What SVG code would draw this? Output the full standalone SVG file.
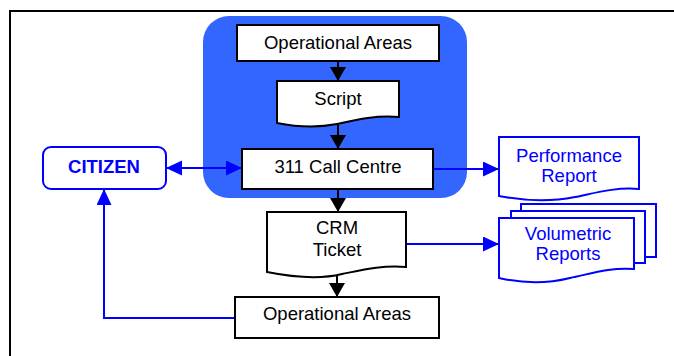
<svg xmlns="http://www.w3.org/2000/svg" width="674" height="356" viewBox="0 0 674 356">
<style>
  .box{fill:#fff;stroke:#000;stroke-width:2}
  .bbox{fill:#fff;stroke:#0000ff;stroke-width:2}
  .t{font-family:"Liberation Sans",Arial,sans-serif;font-size:18.5px;fill:#000;text-anchor:middle}
  .tb{font-family:"Liberation Sans",Arial,sans-serif;font-size:18.5px;fill:#0000ff;text-anchor:middle}
  .k{fill:none;stroke:#000;stroke-width:2}
  .b{fill:none;stroke:#0000ff;stroke-width:2}
</style>
<defs>
  <marker id="ak" markerUnits="userSpaceOnUse" markerWidth="16" markerHeight="16" refX="14" refY="8" orient="auto">
    <path d="M0,0 L14,8 L0,16 Z" fill="#000"/>
  </marker>
  <marker id="ab" markerUnits="userSpaceOnUse" markerWidth="17" markerHeight="16" refX="16" refY="7.5" orient="auto-start-reverse">
    <path d="M0,0 L16,7.5 L0,15 Z" fill="#0000ff"/>
  </marker>
</defs>
<rect width="674" height="356" fill="#fff"/>
<path d="M10,360 V11 H680" fill="none" stroke="#000" stroke-width="2"/>
<rect id="panel" x="203" y="16" width="264" height="182" rx="26" fill="#3366ff"/>

<g id="connectors">
  <path class="k" d="M338,61 V81" marker-end="url(#ak)"/>
  <path class="k" d="M338,125 V149" marker-end="url(#ak)"/>
  <path class="k" d="M338,189 V212" marker-end="url(#ak)"/>
  <path class="k" d="M337,274 V297" marker-end="url(#ak)"/>
  <path class="b" d="M166,168 H242" marker-start="url(#ab)" marker-end="url(#ab)"/>
  <path class="b" d="M235,318 H104 V189" marker-end="url(#ab)"/>
  <path class="b" d="M433,169 H499" marker-end="url(#ab)"/>
  <path class="b" d="M406,244 H499" marker-end="url(#ab)"/>
</g>

<g id="ops-top">
  <rect class="box" x="237" y="25" width="202" height="36"/>
  <text class="t" x="338" y="49">Operational Areas</text>
</g>
<g id="script">
  <path class="box" d="M277,81 H399 V117 C375,115 355,120 337,124 C317,128 297,127 277,123 Z"/>
  <text class="t" x="338" y="105">Script</text>
</g>
<g id="call-centre">
  <rect class="box" x="242" y="149" width="191" height="40"/>
  <text class="t" x="338" y="173">311 Call Centre</text>
</g>
<g id="crm">
  <path class="box" d="M267,212 H406 V267 C382,265 362,270 342,274 C322,279 297,278 267,272 Z"/>
  <text class="t" x="337" y="234">CRM</text>
  <text class="t" x="337" y="256">Ticket</text>
</g>
<g id="ops-bottom">
  <rect class="box" x="235" y="297" width="204" height="41"/>
  <text class="t" x="337" y="320">Operational Areas</text>
</g>
<g id="citizen">
  <rect class="bbox" x="43" y="147" width="123" height="42" rx="8"/>
  <text class="tb" x="104" y="173" font-weight="bold">CITIZEN</text>
</g>
<g id="performance">
  <path class="bbox" d="M499,137 H639 V189 C615,187 595,193 575,197 C555,201 530,202 499,196 Z"/>
  <text class="tb" x="569" y="162">Performance</text>
  <text class="tb" x="569" y="182">Report</text>
</g>
<g id="volumetric">
  <rect class="bbox" x="521" y="204" width="135" height="53"/>
  <rect class="bbox" x="511" y="211" width="134" height="52"/>
  <path class="bbox" d="M499,218 H634 V269 C610,267 590,274 570,278 C550,283 525,284 499,278 Z"/>
  <text class="tb" x="568" y="240">Volumetric</text>
  <text class="tb" x="568" y="260">Reports</text>
</g>
</svg>
